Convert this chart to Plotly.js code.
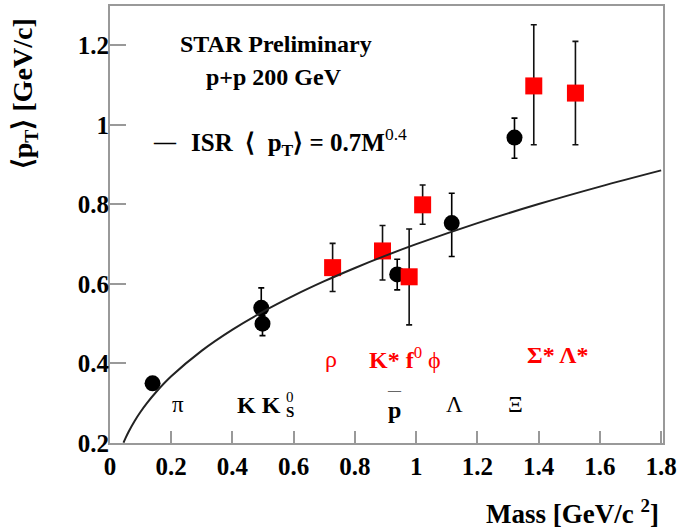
<!DOCTYPE html>
<html>
<head>
<meta charset="utf-8">
<script src="https://cdn.plot.ly/plotly-3.0.1.min.js"></script>
<style>html,body{margin:0;padding:0;background:#fff;}#chart{width:682px;height:532px;}</style>
</head>
<body>
<div id="chart"></div>
<script>
// Black circles: pi, K, K0s, pbar, Lambda, Xi
const blackMass = [0.139, 0.494, 0.498, 0.938, 1.116, 1.321];
const blackPt = [0.350, 0.540, 0.500, 0.624, 0.753, 0.968];
const blackErrUp = [0.0, 0.050, 0.020, 0.038, 0.075, 0.049];
const blackErrDown = [0.0, 0.020, 0.030, 0.039, 0.084, 0.052];

// Red squares: rho, K*, f0, phi, Sigma*, Lambda*
const redMass = [0.727, 0.890, 0.977, 1.021, 1.384, 1.520];
const redPt = [0.641, 0.683, 0.618, 0.799, 1.098, 1.080];
const redErrUp = [0.061, 0.064, 0.120, 0.050, 0.154, 0.130];
const redErrDown = [0.060, 0.073, 0.121, 0.049, 0.148, 0.130];

// ISR curve values
const isrMass = [0.044, 0.05, 0.06, 0.08, 0.1, 0.12, 0.15, 0.2, 0.3, 0.4, 0.5, 0.6, 0.7, 0.8, 0.9, 1.0, 1.2, 1.4, 1.6, 1.8];
const isrPt = [0.2007, 0.2112, 0.2272, 0.2549, 0.2787, 0.2997, 0.3277, 0.3677, 0.4324, 0.4852, 0.5305, 0.5706, 0.6069, 0.6402, 0.6711, 0.7000, 0.7530, 0.8009, 0.8448, 0.8856];

const xTicks = [0, 0.2, 0.4, 0.6, 0.8, 1, 1.2, 1.4, 1.6, 1.8];
const yTicks = [0.2, 0.4, 0.6, 0.8, 1, 1.2];

const F = 'Liberation Serif, Times New Roman, serif';
const grey = '#999999';

const traces = [
  {
    x: blackMass, y: blackPt, type: 'scatter', mode: 'markers',
    marker: {symbol: 'circle', size: 16, color: '#000'},
    error_y: {type: 'data', symmetric: false, array: blackErrUp, arrayminus: blackErrDown,
              color: '#000', thickness: 1.6, width: 3},
    hoverinfo: 'skip'
  },
  {
    x: redMass, y: redPt, type: 'scatter', mode: 'markers',
    marker: {symbol: 'square', size: 17, color: '#ff0000'},
    error_y: {type: 'data', symmetric: false, array: redErrUp, arrayminus: redErrDown,
              color: '#111', thickness: 1.6, width: 3},
    hoverinfo: 'skip'
  },
  {
    x: isrMass, y: isrPt, type: 'scatter', mode: 'lines',
    line: {color: '#222', width: 2, shape: 'spline'},
    hoverinfo: 'skip'
  }
];

function ann(x, y, text, size, color, opts) {
  return Object.assign({x: x, y: y, xref: 'x', yref: 'y', text: text, showarrow: false,
    font: {family: F, size: size || 22, color: color || '#000'}, xanchor: 'center', yanchor: 'middle'}, opts || {});
}

const annotations = [
  ann(0.541, 1.204, '<b>STAR Preliminary</b>', 24),
  ann(0.534, 1.121, '<b>p+p 200 GeV</b>', 24),
  ann(0.178, 0.959, '<b>—</b>', 22),
  ann(0.258, 0.957, '<b>ISR  ⟨  p<sub>T</sub>⟩ = 0.7M</b><sup>0.4</sup>', 25, '#000', {xanchor: 'left'}),
  // black particle labels
  ann(0.222, 0.296, 'π', 23),
  ann(0.485, 0.296, '<b>K K</b>', 24),
  ann(0.567, 0.316, '0', 15, '#000', {xanchor: 'left'}),
  ann(0.567, 0.278, '<b>S</b>', 15, '#000', {xanchor: 'left'}),
  ann(0.928, 0.284, '<b>p</b>', 24),
  ann(0.928, 0.335, '<b>—</b>', 13, '#666'),
  ann(1.124, 0.296, 'Λ', 23),
  ann(1.325, 0.296, 'Ξ', 23),
  // red particle labels
  ann(0.722, 0.411, 'ρ', 24, '#ff0000'),
  ann(0.963, 0.415, '<b>K* f</b><sup>0</sup> ϕ', 24, '#ff0000'),
  ann(1.463, 0.421, '<b>Σ* Λ*</b>', 24, '#ff0000'),
  // axis titles
  {xref: 'paper', yref: 'paper', x: -0.154, y: 0.80, textangle: -90, showarrow: false,
   text: '<b>⟨p<sub>T</sub>⟩ [GeV/c]</b>', font: {family: F, size: 28, color: '#000'},
   xanchor: 'center', yanchor: 'middle'},
  {xref: 'paper', yref: 'paper', x: 0.997, y: -0.158, showarrow: false,
   text: '<b>Mass [GeV/c <sup>2</sup>]</b>', font: {family: F, size: 27, color: '#000'},
   xanchor: 'right', yanchor: 'middle'}
];

const layout = {
  width: 682, height: 532,
  margin: {l: 110, r: 19, t: 6, b: 89},
  paper_bgcolor: '#fff', plot_bgcolor: '#fff',
  showlegend: false,
  xaxis: {
    range: [0, 1.806], tickvals: xTicks, ticktext: xTicks.map(String),
    ticks: 'inside', ticklen: 12, tickwidth: 2, tickcolor: grey,
    showline: true, linecolor: grey, linewidth: 2, mirror: true,
    showgrid: false, zeroline: false,
    tickfont: {family: F, size: 25, color: '#000', weight: 'bold'}
  },
  yaxis: {
    range: [0.2, 1.299], tickvals: yTicks, ticktext: yTicks.map(String),
    ticks: 'inside', ticklen: 16, tickwidth: 2, tickcolor: grey,
    showline: true, linecolor: grey, linewidth: 2, mirror: true,
    showgrid: false, zeroline: false, ticklabelstandoff: -6,
    tickfont: {family: F, size: 25, color: '#000', weight: 'bold'}
  },
  annotations: annotations
};

Plotly.newPlot('chart', traces, layout, {staticPlot: true, displayModeBar: false});
</script>
</body>
</html>
